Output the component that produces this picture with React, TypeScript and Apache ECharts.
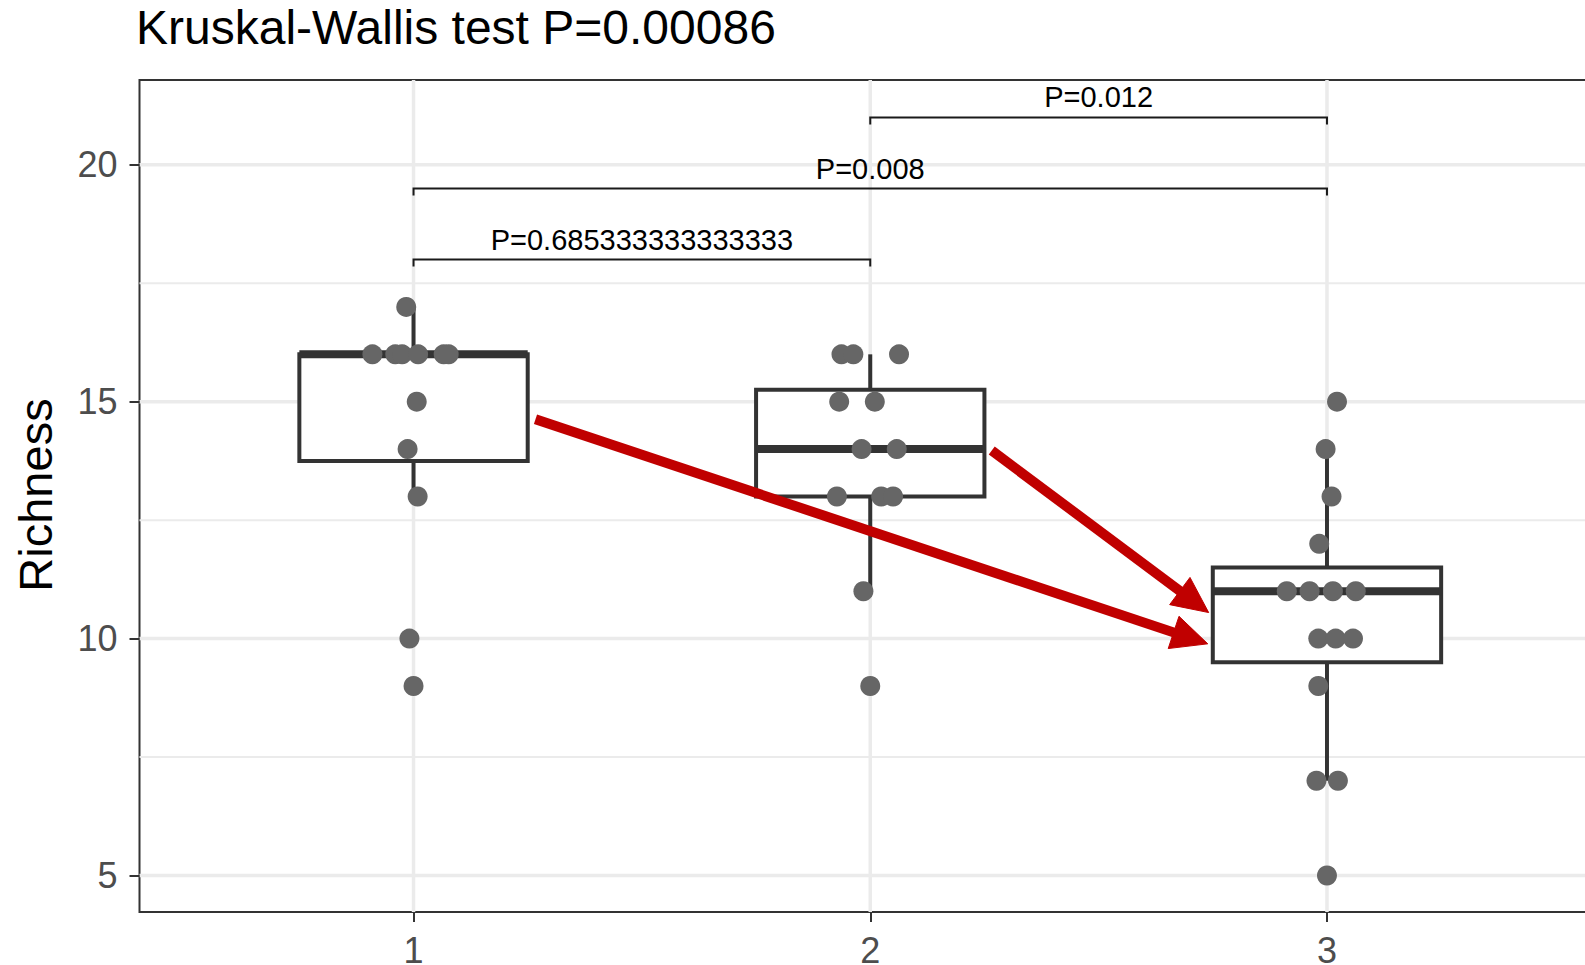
import React, { useEffect, useRef } from "react";
import * as echarts from "echarts";

// ---------- data ----------
const groups = [1, 2, 3];
const group1Values = [17, 16, 16, 16, 16, 16, 16, 15, 14, 13, 10, 9];
const group1Jitter = [-0.016, -0.09, -0.04, -0.025, 0.01, 0.066, 0.077, 0.007, -0.013, 0.009, -0.009, 0.0];
const group2Values = [16, 16, 16, 15, 15, 14, 14, 13, 13, 13, 11, 9];
const group2Jitter = [-0.063, -0.037, 0.063, -0.068, 0.01, -0.019, 0.058, -0.073, 0.024, 0.05, -0.015, 0.0];
const group3Values = [15, 14, 13, 12, 11, 11, 11, 11, 10, 10, 10, 9, 7, 7, 5];
const group3Jitter = [0.022, -0.003, 0.01, -0.017, -0.088, -0.038, 0.013, 0.063, -0.019, 0.019, 0.057, -0.019, -0.023, 0.024, 0.0];

const yMajorTicks = [5, 10, 15, 20];
const yMinorTicks = [7.5, 12.5, 17.5];
const xTicks = [1, 2, 3];

const bracketFrom = [1, 1, 2];
const bracketTo = [2, 3, 3];
const bracketY = [18, 19.5, 21];
const bracketLabels = ["P=0.685333333333333", "P=0.008", "P=0.012"];

const arrowFromX = [1.267, 2.266];
const arrowFromY = [14.63, 13.97];
const arrowToX = [2.739, 2.741];
const arrowToY = [9.89, 10.55];

const titleText = "Kruskal-Wallis test P=0.00086";
const yAxisTitle = "Richness";

// ---------- helpers ----------
const FONT = "'Liberation Sans', Arial, Helvetica, sans-serif";

function quantile7(sorted: number[], p: number) {
  const h = (sorted.length - 1) * p;
  const lo = Math.floor(h);
  const hi = Math.ceil(h);
  return sorted[lo] + (h - lo) * (sorted[hi] - sorted[lo]);
}

function boxStats(values: number[]) {
  const s = [...values].sort((a, b) => a - b);
  const q1 = quantile7(s, 0.25);
  const med = quantile7(s, 0.5);
  const q3 = quantile7(s, 0.75);
  const iqr = q3 - q1;
  const lo = Math.min(...s.filter((v) => v >= q1 - 1.5 * iqr));
  const hi = Math.max(...s.filter((v) => v <= q3 + 1.5 * iqr));
  return [lo, q1, med, q3, hi];
}

export default function App() {
  const ref = useRef<HTMLDivElement>(null);

  useEffect(() => {
    document.body.style.margin = "0";
    document.body.style.overflow = "hidden";
    if (!ref.current) return;
    const chart = echarts.init(ref.current, null, { renderer: "svg" });

    const allValues = [group1Values, group2Values, group3Values];
    const allJitter = [group1Jitter, group2Jitter, group3Jitter];

    const boxData = groups.map((g, i) => [g, ...boxStats(allValues[i])]);
    const pointData: number[][] = [];
    groups.forEach((g, i) => {
      allValues[i].forEach((v, j) => pointData.push([g + allJitter[i][j], v]));
    });

    const gridData: number[][] = [
      ...yMinorTicks.map((v) => [0, v, 0]),
      ...yMajorTicks.map((v) => [0, v, 1]),
      ...xTicks.map((v) => [1, v, 1]),
    ];

    const bracketData = bracketFrom.map((f, i) => [f, bracketTo[i], bracketY[i], i]);
    const arrowData = arrowFromX.map((x, i) => [x, arrowFromY[i], arrowToX[i], arrowToY[i]]);

    const option: any = {
      animation: false,
      backgroundColor: "#ffffff",
      tooltip: { show: false },
      grid: {
        left: 139.5,
        top: 80,
        width: 1461.5,
        height: 832,
        outerBoundsMode: "none",
        containLabel: false,
        show: true,
        borderColor: "#333333",
        borderWidth: 2,
        backgroundColor: "transparent",
      },
      xAxis: {
        type: "value",
        min: 0.4,
        max: 3.6,
        splitLine: { show: false },
        axisLine: { show: false },
        axisTick: { show: true, customValues: xTicks, length: 10, lineStyle: { color: "#333333", width: 2 } },
        axisLabel: {
          customValues: xTicks,
          fontSize: 36,
          color: "#4D4D4D",
          fontFamily: FONT,
          margin: 20,
        },
      },
      yAxis: {
        type: "value",
        min: 4.23,
        max: 21.79,
        splitLine: { show: false },
        axisLine: { show: false },
        axisTick: { show: true, customValues: yMajorTicks, length: 10, lineStyle: { color: "#333333", width: 2 } },
        axisLabel: {
          customValues: yMajorTicks,
          fontSize: 36,
          color: "#4D4D4D",
          fontFamily: FONT,
          margin: 22,
        },
      },
      graphic: [
        {
          type: "text",
          x: 136,
          y: 27,
          style: {
            text: titleText,
            fontSize: 48,
            fontFamily: FONT,
            fill: "#000000",
            align: "left",
            verticalAlign: "middle",
          },
        },
        {
          type: "text",
          x: 35,
          y: 495,
          rotation: Math.PI / 2,
          style: {
            text: yAxisTitle,
            fontSize: 47,
            fontFamily: FONT,
            fill: "#000000",
            align: "center",
            verticalAlign: "middle",
          },
        },
      ],
      series: [
        {
          type: "custom",
          name: "grid",
          silent: true,
          z: 0,
          data: gridData,
          encode: { x: 1, y: 1 },
          renderItem: (params: any, api: any) => {
            const orient = api.value(0);
            const v = api.value(1);
            const major = api.value(2);
            const cs = params.coordSys;
            const lw = major ? 3.5 : 2;
            if (orient === 0) {
              const y = api.coord([1, v])[1];
              return {
                type: "line",
                shape: { x1: cs.x, y1: y, x2: cs.x + cs.width, y2: y },
                style: { stroke: "#EBEBEB", lineWidth: lw },
              };
            }
            const x = api.coord([v, 10])[0];
            return {
              type: "line",
              shape: { x1: x, y1: cs.y, x2: x, y2: cs.y + cs.height },
              style: { stroke: "#EBEBEB", lineWidth: lw },
            };
          },
        },
        {
          type: "custom",
          name: "box",
          silent: true,
          z: 2,
          data: boxData,
          encode: { x: 0, y: [1, 2, 3, 4, 5] },
          renderItem: (params: any, api: any) => {
            const x = api.value(0);
            const lo = api.value(1);
            const q1 = api.value(2);
            const med = api.value(3);
            const q3 = api.value(4);
            const hi = api.value(5);
            const tl = api.coord([x - 0.25, q3]);
            const br = api.coord([x + 0.25, q1]);
            const cx = api.coord([x, med])[0];
            const yMed = api.coord([x, med])[1];
            const yLo = api.coord([x, lo])[1];
            const yHi = api.coord([x, hi])[1];
            const stroke = "#333333";
            return {
              type: "group",
              children: [
                { type: "line", shape: { x1: cx, y1: yHi, x2: cx, y2: tl[1] }, style: { stroke, lineWidth: 4 } },
                { type: "line", shape: { x1: cx, y1: br[1], x2: cx, y2: yLo }, style: { stroke, lineWidth: 4 } },
                {
                  type: "rect",
                  shape: { x: tl[0], y: tl[1], width: br[0] - tl[0], height: br[1] - tl[1] },
                  style: { fill: "#ffffff", stroke, lineWidth: 4 },
                },
                {
                  type: "line",
                  shape: { x1: tl[0], y1: yMed, x2: br[0], y2: yMed },
                  style: { stroke, lineWidth: 8, lineCap: "butt" },
                },
              ],
            };
          },
        },
        {
          type: "scatter",
          name: "points",
          silent: true,
          z: 3,
          data: pointData,
          symbol: "circle",
          symbolSize: 20,
          itemStyle: { color: "#666666", opacity: 1 },
        },
        {
          type: "custom",
          name: "brackets",
          silent: true,
          z: 4,
          data: bracketData,
          encode: { x: [0, 1], y: 2 },
          renderItem: (params: any, api: any) => {
            const p1 = api.coord([api.value(0), api.value(2)]);
            const p2 = api.coord([api.value(1), api.value(2)]);
            const label = bracketLabels[api.value(3)];
            const tip = 7;
            return {
              type: "group",
              children: [
                {
                  type: "polyline",
                  shape: { points: [[p1[0], p1[1] + tip], [p1[0], p1[1]], [p2[0], p2[1]], [p2[0], p2[1] + tip]] },
                  style: { stroke: "#1a1a1a", lineWidth: 2, fill: "none" },
                },
                {
                  type: "text",
                  x: (p1[0] + p2[0]) / 2,
                  y: p1[1] - 20,
                  style: {
                    text: label,
                    fontSize: 29,
                    fontFamily: FONT,
                    fill: "#000000",
                    align: "center",
                    verticalAlign: "middle",
                  },
                },
              ],
            };
          },
        },
        {
          type: "custom",
          name: "arrows",
          silent: true,
          z: 5,
          data: arrowData,
          encode: { x: [0, 2], y: [1, 3] },
          renderItem: (params: any, api: any) => {
            const a = api.coord([api.value(0), api.value(1)]);
            const b = api.coord([api.value(2), api.value(3)]);
            const dx = b[0] - a[0];
            const dy = b[1] - a[1];
            const len = Math.hypot(dx, dy);
            const ux = dx / len;
            const uy = dy / len;
            const headLen = 36;
            const headHalf = 17;
            const base = [b[0] - ux * headLen, b[1] - uy * headLen];
            const color = "#C00000";
            return {
              type: "group",
              children: [
                {
                  type: "line",
                  shape: { x1: a[0], y1: a[1], x2: base[0] + ux * 3, y2: base[1] + uy * 3 },
                  style: { stroke: color, lineWidth: 10, lineCap: "butt" },
                },
                {
                  type: "polygon",
                  shape: {
                    points: [
                      [b[0], b[1]],
                      [base[0] - uy * headHalf, base[1] + ux * headHalf],
                      [base[0] + uy * headHalf, base[1] - ux * headHalf],
                    ],
                  },
                  style: { fill: color, stroke: color, lineWidth: 1 },
                },
              ],
            };
          },
        },
      ],
    };

    chart.setOption(option);
    return () => {
      chart.dispose();
    };
  }, []);

  return (
    <div
      ref={ref}
      style={{ position: "relative", width: "1585px", height: "965px", background: "#ffffff" }}
    />
  );
}
